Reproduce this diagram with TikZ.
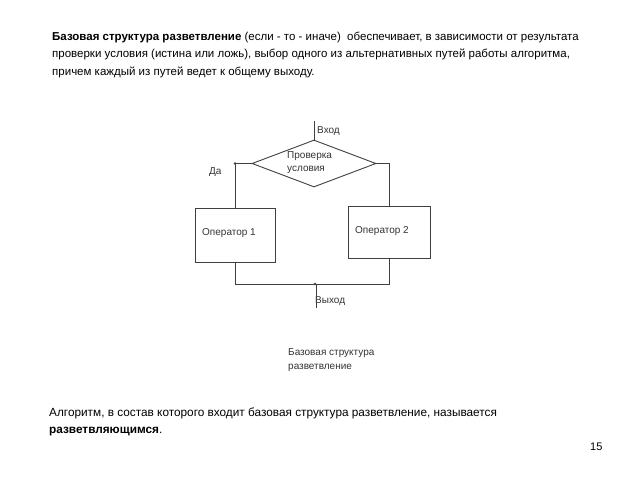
\documentclass[tikz,border=0pt]{standalone}
\usepackage{fontspec}
\setmainfont{Liberation Sans}
\usetikzlibrary{shapes.geometric}
\definecolor{ln}{HTML}{404040}
\definecolor{tx}{HTML}{333333}
\begin{document}
\begin{tikzpicture}[x=1pt,y=-1pt,
  conn/.style={draw=ln,line width=0.9pt},
  opbox/.style={draw=ln,line width=0.9pt,rectangle,inner sep=0pt},
  lbl/.style={text=tx,font=\fontsize{10}{12}\selectfont,inner sep=0pt,anchor=base west},
  body/.style={text=black,inner sep=0pt,anchor=base west,align=left}]
\useasboundingbox[fill=white] (0,0) rectangle (640,480);
% title text (base anchor = baseline of last line)
\node[body,font=\fontsize{11.5}{17.5}\selectfont] (title) at (52,75)
 {\textbf{Базовая структура разветвление} (если - то - иначе)\ \ обеспечивает, в зависимости от результата\\
 проверки условия (истина или ложь), выбор одного из альтернативных путей работы алгоритма,\\
 причем каждый из путей ведет к общему выходу.};
% diagram
\node[diamond,draw=ln,line width=0.9pt,minimum width=124pt,minimum height=47pt,inner sep=0pt] (dia) at (314,163.5) {};
\node[lbl,align=left,font=\fontsize{10}{13}\selectfont] (cond) at (287,171) {Проверка\\условия};
\coordinate (entry) at (314,121);
\node[lbl] (in) at (317,133) {Вход};
\node[opbox,minimum width=80pt,minimum height=54pt] (op1) at (235,235) {};
\node[opbox,minimum width=82pt,minimum height=52pt] (op2) at (389,232) {};
\node[lbl] (t1) at (202,235) {Оператор 1};
\node[lbl] (t2) at (355,233) {Оператор 2};
\node[lbl] (yes) at (209,174) {Да};
\coordinate (join) at (316,284);
\coordinate (exit) at (316,308);
\node[lbl] (out) at (315,303) {Выход};
\draw[conn] (entry) -- (dia.north);
\draw[conn] (dia.west) -| (op1.north);
\draw[conn] (dia.east) -| (op2.north);
\draw[conn] (op1.south) |- (join);
\draw[conn] (op2.south) |- (join);
\draw[conn] (join) -- (exit);
\fill[ln] (op1.north |- dia.west) circle (1.3pt);
\fill[ln] (join) ++(-1,0) circle (1.3pt);
% caption
\node[lbl,align=left,font=\fontsize{10}{13.5}\selectfont] (cap) at (288,369) {Базовая структура\\разветвление};
% bottom text
\node[body,font=\fontsize{11.8}{17}\selectfont] (bottom) at (49,433)
 {Алгоритм, в состав которого входит базовая структура разветвление, называется\\
 \textbf{разветвляющимся}.};
\node[body,font=\fontsize{11}{13}\selectfont] (page) at (590,450) {15};
\end{tikzpicture}
\end{document}
